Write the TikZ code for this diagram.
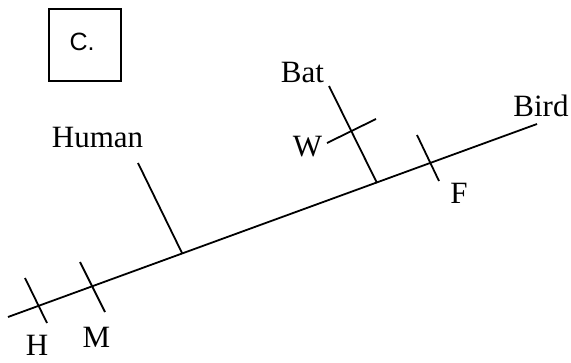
\documentclass[tikz,border=0pt]{standalone}
\usepackage{fontspec}
\setmainfont{Liberation Serif}
\newfontfamily\labelsans{Liberation Sans}
\begin{document}
\begin{tikzpicture}[x=1pt,y=-1pt,
  lbl/.style={inner sep=0pt,anchor=base,font=\fontsize{31}{34}\selectfont},
  ln/.style={line width=1.8pt,line cap=butt},
  boxst/.style={draw,line width=2pt,minimum width=72pt,minimum height=72pt,inner sep=0pt}]
\useasboundingbox (0,0) rectangle (571,362);
% main line
\coordinate (L) at (8,317);
\coordinate (R) at (537,124);
\draw[ln] (L) -- (R);
% Human branch
\coordinate (hj) at (182,253);
\coordinate (ht) at (138,163);
\draw[ln] (hj) -- (ht);
% Bat branch
\coordinate (bj) at (377,183);
\coordinate (bt) at (329,86);
\draw[ln] (bj) -- (bt);
% ticks
\coordinate (w1) at (327,143); \coordinate (w2) at (376,119);
\draw[ln] (w1) -- (w2);
\coordinate (f1) at (417,135); \coordinate (f2) at (439,181);
\draw[ln] (f1) -- (f2);
\coordinate (h1) at (25,278); \coordinate (h2) at (47,323);
\draw[ln] (h1) -- (h2);
\coordinate (m1) at (80,262); \coordinate (m2) at (105,312);
\draw[ln] (m1) -- (m2);
% labels
\node[lbl] (human) at (97.5,147) {Human};
\node[lbl] (bat) at (302.5,82) {Bat};
\node[lbl] (bird) at (541,116) {Bird};
\node[lbl] (wl) at (307.5,156) {W};
\node[lbl] (fl) at (459,203) {F};
\node[lbl] (hl) at (37,355) {H};
\node[lbl] (ml) at (96.5,347) {M};
% box
\node[boxst] (box) at (85,45) {};
\node[inner sep=0pt,anchor=base,font=\labelsans\fontsize{25}{27}\selectfont] (boxtxt) at (82,50) {C.};
\end{tikzpicture}
\end{document}
